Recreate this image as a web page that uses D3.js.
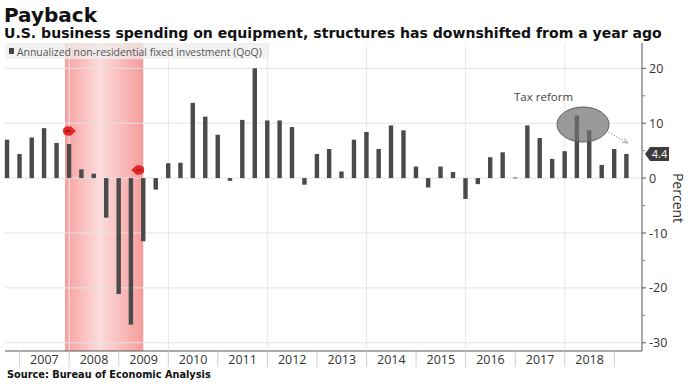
<!DOCTYPE html>
<html><head><meta charset="utf-8">
<script src="https://cdn.jsdelivr.net/npm/d3@7"></script>
<style>body{margin:0;background:#fff;}svg{display:block;}</style>
</head><body>
<svg id="c" width="691" height="387"></svg>
<script>
const quarters = ["2006Q3","2006Q4","2007Q1","2007Q2","2007Q3","2007Q4","2008Q1","2008Q2","2008Q3","2008Q4","2009Q1","2009Q2","2009Q3","2009Q4","2010Q1","2010Q2","2010Q3","2010Q4","2011Q1","2011Q2","2011Q3","2011Q4","2012Q1","2012Q2","2012Q3","2012Q4","2013Q1","2013Q2","2013Q3","2013Q4","2014Q1","2014Q2","2014Q3","2014Q4","2015Q1","2015Q2","2015Q3","2015Q4","2016Q1","2016Q2","2016Q3","2016Q4","2017Q1","2017Q2","2017Q3","2017Q4","2018Q1","2018Q2","2018Q3","2018Q4","2019Q1"];
const values = [7.0,4.4,7.4,9.1,6.4,6.2,1.6,0.8,-7.2,-21.1,-26.7,-11.5,-2.1,2.7,2.8,13.7,11.2,7.9,-0.5,10.6,20.0,10.5,10.5,9.3,-1.2,4.4,5.3,1.2,7.0,8.4,5.3,9.6,8.7,2.1,-1.7,2.1,1.1,-3.8,-1.1,3.8,4.7,0.1,9.6,7.3,3.5,4.9,11.4,8.7,2.4,5.3,4.4];
const yearLabels = ["2007","2008","2009","2010","2011","2012","2013","2014","2015","2016","2017","2018"];
const yTicks = [20,10,0,-10,-20,-30];
const recession = ["2007-12-01","2009-06-30"];
const lastLabel = "4.4";

const svg = d3.select("#c");
const L = 5, R = 642, T = 43, B = 351;

function qEnd(q){ const y=+q.slice(0,4), n=+q.slice(5); return new Date(y, n*3, 0); }
const x = d3.scaleTime().domain([new Date(2006,8,15), new Date(2019,6,24)]).range([L,R]);
const y = d3.scaleLinear().domain([20,-30]).range([68.3,342.8]);

const defs = svg.append("defs");
const g1 = defs.append("linearGradient").attr("id","rg").attr("x1","0").attr("x2","1").attr("y1","0").attr("y2","0");
g1.append("stop").attr("offset","0").attr("stop-color","#f7a0a0");
g1.append("stop").attr("offset","0.45").attr("stop-color","#fcdcdc");
g1.append("stop").attr("offset","1").attr("stop-color","#f79b9b");
const rx0 = x(new Date(recession[0])), rx1 = x(new Date(recession[1]));
svg.append("rect").attr("x",rx0).attr("y",T).attr("width",rx1-rx0).attr("height",B-T).attr("fill","url(#rg)");

svg.append("g").selectAll("line").data(yTicks).join("line")
  .attr("x1",L).attr("x2",R).attr("y1",d=>y(d)).attr("y2",d=>y(d))
  .attr("stroke","#e3e3e3").attr("stroke-width",1);
const gridYears = [2008,2010,2012,2014,2016,2018];
svg.append("g").selectAll("line").data(gridYears).join("line")
  .attr("x1",d=>x(new Date(d,0,1))).attr("x2",d=>x(new Date(d,0,1)))
  .attr("y1",T).attr("y2",B).attr("stroke","#e8e8e8").attr("stroke-width",1);

svg.append("rect").attr("x",5).attr("y",43).attr("width",264).attr("height",16).attr("fill","#eeeeee").attr("opacity",0.75);
svg.append("rect").attr("x",9).attr("y",48).attr("width",5).attr("height",6).attr("fill","#444");
const lt = svg.append("text").attr("x",17).attr("y",55.5).attr("font-family","Open Sans, sans-serif").attr("font-size",10).attr("fill","#555")
  .text("Annualized non-residential fixed investment (QoQ)");

svg.append("g").selectAll("rect").data(values).join("rect")
  .attr("x",(d,i)=>x(qEnd(quarters[i]))-2.2)
  .attr("width",4.4)
  .attr("y",d=>d>=0?y(d):y(0))
  .attr("height",d=>Math.max(0.8,Math.abs(y(d)-y(0))))
  .attr("fill","#4a4a4a");

function marker(cx,cy,dir){
  const p = d3.path();
  p.moveTo(cx+dir*8,cy);
  p.lineTo(cx+dir*3,cy-4.5);
  p.quadraticCurveTo(cx-dir*5,cy-5.5,cx-dir*5,cy);
  p.quadraticCurveTo(cx-dir*5,cy+5.5,cx+dir*3,cy+4.5);
  p.closePath();
  svg.append("path").attr("d",p.toString()).attr("fill","#e3262a");
  svg.append("rect").attr("x",cx-3).attr("y",cy-1).attr("width",5).attr("height",2).attr("fill","#8a1010").attr("opacity",0.6);
}
marker(rx0+3, 131, 1);
marker(rx1-4, 170, -1);

svg.append("ellipse").attr("cx",583).attr("cy",124.5).attr("rx",26).attr("ry",17.5)
  .attr("fill","#737373").attr("fill-opacity",0.72).attr("stroke","#5f5f5f").attr("stroke-width",1);
defs.append("marker").attr("id","ah").attr("viewBox","0 0 10 10").attr("refX",9).attr("refY",5)
  .attr("markerWidth",6).attr("markerHeight",6).attr("orient","auto")
  .append("path").attr("d","M0,1 L9,5 L0,9").attr("fill","none").attr("stroke","#999").attr("stroke-width",1.3);
svg.append("line").attr("x1",590).attr("y1",122).attr("x2",628).attr("y2",143)
  .attr("stroke","#9a9a9a").attr("stroke-width",1).attr("stroke-dasharray","1.5,1.5").attr("marker-end","url(#ah)");
svg.append("text").attr("x",514).attr("y",101).attr("font-family","Open Sans, sans-serif").attr("font-size",11.5).attr("fill","#444").text("Tax reform");

svg.append("line").attr("x1",R).attr("x2",R).attr("y1",T).attr("y2",B).attr("stroke","#555").attr("stroke-width",1);
const minor = [15,5,-5,-15,-25];
svg.append("g").selectAll("line").data(minor).join("line")
  .attr("x1",R).attr("x2",R+3).attr("y1",d=>y(d)).attr("y2",d=>y(d)).attr("stroke","#888");
svg.append("g").selectAll("line").data(yTicks).join("line")
  .attr("x1",R).attr("x2",R+4).attr("y1",d=>y(d)).attr("y2",d=>y(d)).attr("stroke","#555");
svg.append("g").selectAll("text").data(yTicks).join("text")
  .attr("x",R+7).attr("y",d=>y(d)+4.5).attr("font-family","Open Sans, sans-serif").attr("font-size",12.5).attr("fill","#333")
  .text(d=>d<0?"-"+Math.abs(d):String(d));
svg.append("text").attr("transform","translate(673,198) rotate(90)").attr("text-anchor","middle")
  .attr("font-family","Open Sans, sans-serif").attr("font-size",14).attr("fill","#333").text("Percent");

const ly = y(values[values.length-1]);
svg.append("path").attr("d",`M${R+3},${ly} L${R+8},${ly-7} L${R+27},${ly-7} L${R+27},${ly+7} L${R+8},${ly+7} Z`).attr("fill","#3d3d3d");
svg.append("text").attr("x",R+17.5).attr("y",ly+4).attr("text-anchor","middle").attr("font-family","Open Sans, sans-serif")
  .attr("font-size",11).attr("fill","#fff").text(lastLabel);

svg.append("line").attr("x1",L).attr("x2",R).attr("y1",B).attr("y2",B).attr("stroke","#555");
const yearTicks = d3.range(2007,2020).map(v=>new Date(v,0,1));
svg.append("g").selectAll("line").data(yearTicks).join("line")
  .attr("x1",d=>x(d)).attr("x2",d=>x(d)).attr("y1",B).attr("y2",367).attr("stroke","#cfcfcf");
svg.append("g").selectAll("text").data(yearLabels).join("text")
  .attr("x",d=>(x(new Date(+d,0,1))+x(new Date(+d+1,0,1)))/2).attr("y",364).attr("text-anchor","middle")
  .attr("font-family","Open Sans, sans-serif").attr("font-size",12.5).attr("fill","#333").text(d=>d);

function fit(sel,w){ const n=sel.node(); const m=n.getComputedTextLength(); const fs=+sel.attr("font-size"); sel.attr("font-size",fs*w/m); }
fit(lt,245);
const t1 = svg.append("text").attr("x",4).attr("y",22).attr("font-family","DejaVu Sans, sans-serif").attr("font-weight","bold").attr("font-size",21).attr("fill","#111").text("Payback");
fit(t1,93);
const t2 = svg.append("text").attr("x",4).attr("y",38).attr("font-family","DejaVu Sans, sans-serif").attr("font-weight","bold").attr("font-size",14).attr("fill","#111")
  .text("U.S. business spending on equipment, structures has downshifted from a year ago");
fit(t2,658);
const t3 = svg.append("text").attr("x",7).attr("y",378).attr("font-family","DejaVu Sans, sans-serif").attr("font-weight","bold").attr("font-size",10).attr("fill","#111")
  .text("Source: Bureau of Economic Analysis");
fit(t3,204);
</script>
</body></html>
